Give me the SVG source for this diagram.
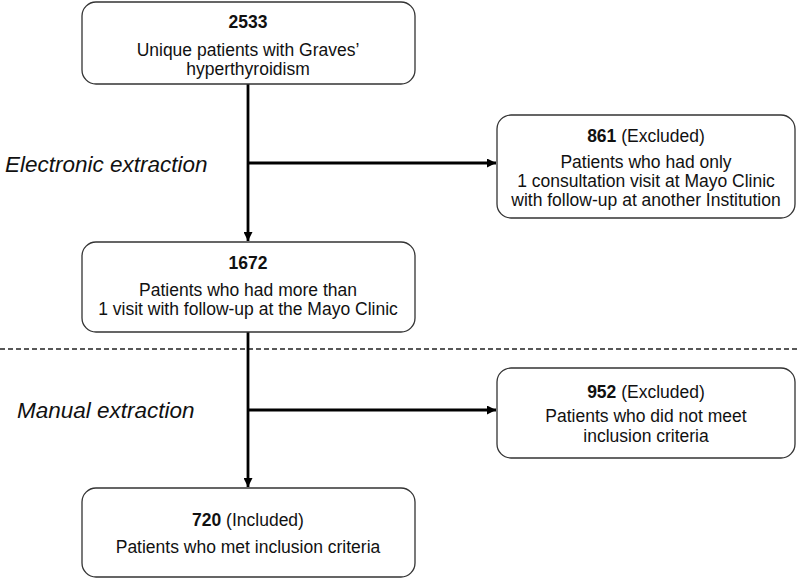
<svg xmlns="http://www.w3.org/2000/svg" width="800" height="580" viewBox="0 0 800 580">
<style>
.box{fill:#fff;stroke:#333;stroke-width:1.3}
.t{font-family:"Liberation Sans",Arial,sans-serif;font-size:17.5px;fill:#111;text-anchor:middle}
.b{font-weight:bold}
.lbl{font-family:"Liberation Sans",Arial,sans-serif;font-size:22.5px;font-style:italic;fill:#111}
.conn{stroke:#000;stroke-width:2.8;fill:none}
</style>
<defs>
<marker id="arr" viewBox="0 0 10 10" refX="10" refY="5" markerWidth="10" markerHeight="9" markerUnits="userSpaceOnUse" orient="auto">
<path d="M0,0 L10,5 L0,10 z" fill="#000"/>
</marker>
</defs>
<rect width="800" height="580" fill="#fff"/>
<line x1="0" y1="349" x2="800" y2="349" stroke="#222" stroke-width="1.3" stroke-dasharray="5,3"/>
<text class="lbl" x="5" y="172">Electronic extraction</text>
<text class="lbl" x="17" y="418">Manual extraction</text>
<g id="connectors">
<line class="conn" x1="248" y1="84" x2="248" y2="241" marker-end="url(#arr)"/>
<line class="conn" x1="248" y1="163" x2="496" y2="163" marker-end="url(#arr)"/>
<line class="conn" x1="248" y1="332" x2="248" y2="487" marker-end="url(#arr)"/>
<line class="conn" x1="248" y1="410" x2="496" y2="410" marker-end="url(#arr)"/>
</g>
<g id="n2533">
<rect class="box" x="82" y="2" width="333" height="82" rx="14"/>
<text class="t b" x="248" y="28">2533</text>
<text class="t" x="248" y="56">Unique patients with Graves’</text>
<text class="t" x="248" y="75">hyperthyroidism</text>
</g>
<g id="n861">
<rect class="box" x="497" y="115" width="298" height="103" rx="14"/>
<text class="t" x="646" y="142"><tspan class="b">861</tspan> (Excluded)</text>
<text class="t" x="646" y="168">Patients who had only</text>
<text class="t" x="646" y="187">1 consultation visit at Mayo Clinic</text>
<text class="t" x="646" y="206">with follow-up at another Institution</text>
</g>
<g id="n1672">
<rect class="box" x="82" y="242" width="333" height="90" rx="14"/>
<text class="t b" x="248" y="269">1672</text>
<text class="t" x="248" y="296">Patients who had more than</text>
<text class="t" x="248" y="315">1 visit with follow-up at the Mayo Clinic</text>
</g>
<g id="n952">
<rect class="box" x="497" y="368" width="298" height="90" rx="14"/>
<text class="t" x="646" y="398"><tspan class="b">952</tspan> (Excluded)</text>
<text class="t" x="646" y="422">Patients who did not meet</text>
<text class="t" x="646" y="442">inclusion criteria</text>
</g>
<g id="n720">
<rect class="box" x="82" y="488" width="333" height="89" rx="14"/>
<text class="t" x="248" y="526"><tspan class="b">720</tspan> (Included)</text>
<text class="t" x="248" y="553">Patients who met inclusion criteria</text>
</g>
</svg>
